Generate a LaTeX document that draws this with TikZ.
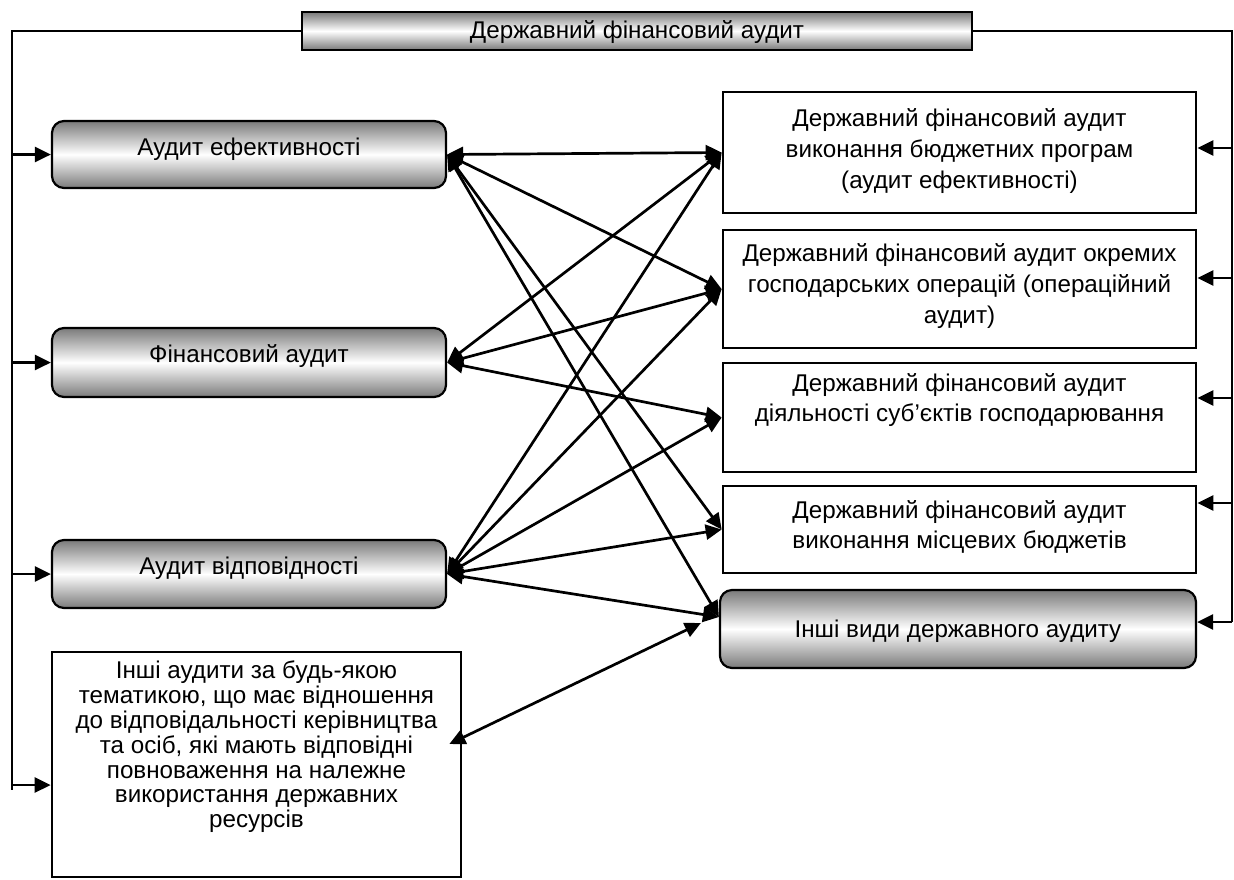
\documentclass[tikz,border=0pt]{standalone}
\usepackage{fontspec}
\setmainfont{Liberation Sans}
\usetikzlibrary{arrows.meta,calc}
\tikzset{
  ln/.style={line width=1.35pt, black},
  tip/.style={-{Triangle[length=8pt,width=7.5pt]}},
  dbl/.style={{Triangle[length=8pt,width=7.5pt]}-{Triangle[length=8pt,width=7.5pt]}},
  shade box/.style={draw=black, line width=1.1pt, top color=black!52, bottom color=black!52, middle color=white, inner sep=0pt},
  plain box/.style={draw=black, line width=1.35pt, fill=white, inner sep=0pt},
  txt/.style={font=\fontsize{12.1pt}{15.3pt}\selectfont, align=center, inner sep=0pt},
  tighttxt/.style={font=\fontsize{12.1pt}{12.4pt}\selectfont, align=center, inner sep=0pt}
}
\begin{document}
\begin{tikzpicture}[x=0.5pt,y=-0.5pt]
\useasboundingbox (0,0) rectangle (1234,879);
% boxes
\node[shade box, minimum width=335pt, minimum height=19pt] (top) at (637,31) {};
\node[shade box, rounded corners=6pt, minimum width=197pt, minimum height=33.5pt] (A) at (249,154.5) {};
\node[shade box, rounded corners=6pt, minimum width=197pt, minimum height=34.5pt] (F) at (249,362.5) {};
\node[shade box, rounded corners=6pt, minimum width=197pt, minimum height=34pt] (V) at (249,574) {};
\node[plain box, minimum width=204.5pt, minimum height=112.5pt] (I) at (256.5,764.5) {};
\node[plain box, minimum width=236.5pt, minimum height=60.5pt] (R1) at (959.5,152.5) {};
\node[plain box, minimum width=236.5pt, minimum height=59pt] (R2) at (959.5,289) {};
\node[plain box, minimum width=236.5pt, minimum height=54.5pt] (R3) at (959.5,417.5) {};
\node[plain box, minimum width=236.5pt, minimum height=43.5pt] (R4) at (959.5,529.5) {};
\node[shade box, rounded corners=6pt, minimum width=238pt, minimum height=39pt] (R5) at (958,629) {};
% texts
\node[txt] (topt) at (637,32) {Державний фінансовий аудит};
\node[txt] (At) at (249,149) {Аудит ефективності};
\node[txt] (Ft) at (249,356) {Фінансовий аудит};
\node[txt] (Vt) at (249,568) {Аудит відповідності};
\node[tighttxt] (It) at (256.5,747) {Інші аудити за будь-якою\\тематикою, що має відношення\\до відповідальності керівництва\\та осіб, які мають відповідні\\повноваження на належне\\використання державних\\ресурсів};
\node[txt] (R1t) at (959.5,151) {Державний фінансовий аудит\\виконання бюджетних програм\\(аудит ефективності)};
\node[txt] (R2t) at (959.5,286) {Державний фінансовий аудит окремих\\господарських операцій (операційний\\аудит)};
\node[txt] (R3t) at (959.5,400) {Державний фінансовий аудит\\діяльності суб’єктів господарювання};
\node[txt] (R4t) at (959.5,527) {Державний фінансовий аудит\\виконання місцевих бюджетів};
\node[txt] (R5t) at (958,631) {Інші види державного аудиту};
% frame lines
\coordinate (L0) at (12,790);
\coordinate (Rb) at (1232,622);
\draw[ln] (top.west) -| (L0);
\draw[ln] (top.east) -| (Rb);
\coordinate (Iin) at ([yshift=-10.25pt]I.west);
\draw[ln,tip] (A.west -| L0) -- (A.west);
\draw[ln,tip] (F.west -| L0) -- (F.west);
\draw[ln,tip] (V.west -| L0) -- (V.west);
\draw[ln,tip] (Iin -| L0) -- (Iin);
\coordinate (R1e) at ([yshift=2.25pt]R1.east);
\coordinate (R2e) at ([yshift=5.5pt]R2.east);
\coordinate (R3e) at ([yshift=9.75pt]R3.east);
\coordinate (R4e) at ([yshift=13.25pt]R4.east);
\coordinate (R5e) at ([yshift=3.5pt]R5.east);
\foreach \e in {R1e,R2e,R3e,R4e,R5e}
  \draw[ln,tip] (\e -| Rb) -- (\e);
% cross connections
\coordinate (R5w) at ([yshift=6pt]R5.west);
\draw[ln,dbl] (A.east) -- (R1.west);
\draw[ln,dbl] (A.east) -- (R2.west);
\draw[ln,dbl] (A.east) -- (R4.west);
\draw[ln,dbl] (A.east) -- (R5w);
\draw[ln,dbl] (F.east) -- (R1.west);
\draw[ln,dbl] (F.east) -- (R2.west);
\draw[ln,dbl] (F.east) -- (R3.west);
\draw[ln,dbl] (V.east) -- (R1.west);
\draw[ln,dbl] (V.east) -- (R2.west);
\draw[ln,dbl] (V.east) -- (R3.west);
\draw[ln,dbl] (V.east) -- (R4.west);
\draw[ln,dbl] (V.east) -- (R5w);
\coordinate (Ie) at ([xshift=-6.5pt,yshift=10.25pt]I.east);
\coordinate (R5i) at ([xshift=-9pt,yshift=3pt]R5.west);
\draw[ln,dbl] (Ie) -- (R5i);
\end{tikzpicture}
\end{document}
